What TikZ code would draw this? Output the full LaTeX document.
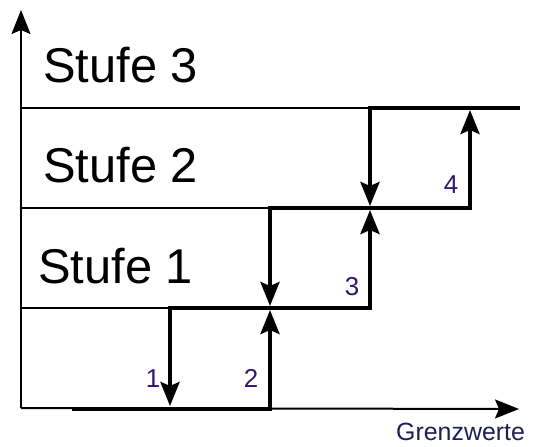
\documentclass[tikz,border=0pt]{standalone}
\usepackage{fontspec}
\setmainfont{Liberation Sans}
\usetikzlibrary{arrows.meta}
\definecolor{numcol}{RGB}{48,24,112}
\definecolor{labcol}{RGB}{30,30,80}
\begin{document}
\begin{tikzpicture}[x=1bp,y=-1bp,
  axisline/.style={line width=2bp, black},
  stepline/.style={line width=4bp, black},
  stufe/.style={font=\fontsize{49}{52}\selectfont, anchor=base west, inner sep=0pt},
  num/.style={font=\fontsize{26}{28}\selectfont, text=numcol, anchor=base, inner sep=0pt}]
\useasboundingbox (0,0) rectangle (539,447);
% axes
\coordinate (O) at (21,408);
\coordinate (Ytop) at (21,10);
\coordinate (Xend) at (519,409);
% thin level lines
\coordinate (L1s) at (21,308);
\coordinate (L2s) at (21,208);
\coordinate (L3s) at (21,108);
% step corners
\coordinate (A) at (72,409);
\coordinate (B) at (270,409);
\coordinate (C) at (170,308);
\coordinate (D) at (370,308);
\coordinate (E) at (270,208);
\coordinate (F) at (470,208);
\coordinate (G) at (370,108);
\coordinate (H) at (520,108);
% arrow ends
\coordinate (B2) at (270,310);
\coordinate (C2) at (170,406);
\coordinate (D2) at (370,210);
\coordinate (E2) at (270,306);
\coordinate (F2) at (470,110);
\coordinate (G2) at (370,206);

\draw[axisline] (L1s) -- (C);
\draw[axisline] (L2s) -- (E);
\draw[axisline] (L3s) -- (G);
\draw[axisline, -{Stealth[length=24bp,width=19bp,inset=4bp]}] (O) -- (Ytop);
\draw[axisline, -{Stealth[length=24bp,width=19bp,inset=4bp]}] (O) -- (Xend);

\draw[stepline, -{Stealth[length=24bp,width=19bp,inset=4bp]}] (A) -- (B) -- (B2);
\draw[stepline, {Stealth[length=24bp,width=19bp,inset=4bp]}-{Stealth[length=24bp,width=19bp,inset=4bp]}] (C2) -- (C) -- (D) -- (D2);
\draw[stepline, {Stealth[length=24bp,width=19bp,inset=4bp]}-{Stealth[length=24bp,width=19bp,inset=4bp]}] (E2) -- (E) -- (F) -- (F2);
\draw[stepline, {Stealth[length=24bp,width=19bp,inset=4bp]}-] (G2) -- (G) -- (H);

\node[stufe] (s3) at (43,83) {Stufe 3};
\node[stufe] (s2) at (43,183) {Stufe 2};
\node[stufe] (s1) at (38,283) {Stufe 1};

\node[num] (n1) at (153,387) {1};
\node[num] (n2) at (251,387) {2};
\node[num] (n3) at (352,295) {3};
\node[num] (n4) at (451,194) {4};

\node[font=\fontsize{25}{28}\selectfont, text=labcol, anchor=base west, inner sep=0pt] (gw) at (396,440) {Grenzwerte};
\end{tikzpicture}
\end{document}
